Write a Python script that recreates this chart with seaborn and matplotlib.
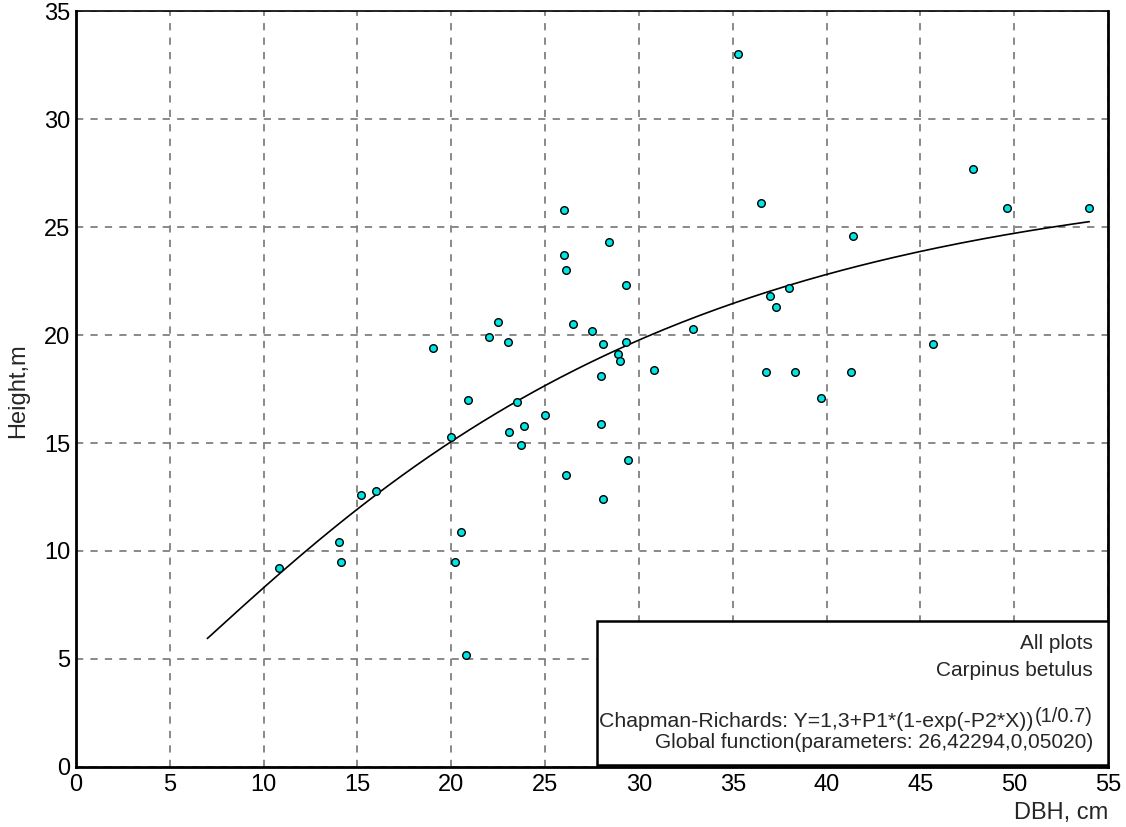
import numpy as np
import pandas as pd
import matplotlib.pyplot as plt
import seaborn as sns

# observed trees: diameter at breast height (cm) and height (m)
dbh = [10.8, 14.0, 14.1, 15.2, 16.0, 19.0, 20.0, 20.2, 20.5, 20.8, 20.9,
       22.0, 22.5, 23.0, 23.1, 23.5, 23.7, 23.9, 25.0, 26.0, 26.0, 26.1,
       26.1, 26.5, 27.5, 28.0, 28.0, 28.1, 28.1, 28.4, 28.9, 29.0, 29.3,
       29.3, 29.4, 30.8, 32.9, 35.3, 36.5, 36.8, 37.0, 37.3, 38.0, 38.3,
       39.7, 41.3, 41.4, 45.7, 47.8, 49.6, 54.0]
height = [9.2, 10.4, 9.5, 12.6, 12.8, 19.4, 15.3, 9.5, 10.9, 5.2, 17.0,
          19.9, 20.6, 19.7, 15.5, 16.9, 14.9, 15.8, 16.3, 25.8, 23.7, 23.0,
          13.5, 20.5, 20.2, 18.1, 15.9, 19.6, 12.4, 24.3, 19.1, 18.8, 22.3,
          19.7, 14.2, 18.4, 20.3, 33.0, 26.1, 18.3, 21.8, 21.3, 22.2, 18.3,
          17.1, 18.3, 24.6, 19.6, 27.7, 25.9, 25.9]

# Chapman-Richards parameters as printed on the chart
p1, p2 = 26.42294, 0.05020
x_fit = np.linspace(7, 54, 200)
y_fit = 1.3 + p1 * (1 - np.exp(-p2 * x_fit)) ** (1 / 0.7)

sns.set_theme(style="white")
plt.rcParams['font.family'] = ['Liberation Sans', 'DejaVu Sans']

fig = plt.figure(figsize=(11.26, 8.27), dpi=100)
ax = fig.add_axes([0.0675, 0.0726, 0.9165, 0.914])

df = pd.DataFrame({'DBH': dbh, 'Height': height})
fit = pd.DataFrame({'DBH': x_fit, 'Height': y_fit})

sns.lineplot(data=fit, x='DBH', y='Height', color='black', lw=1.2, ax=ax,
             zorder=3)
sns.scatterplot(data=df, x='DBH', y='Height', color='#00e5e5',
                edgecolor='black', linewidth=1.0, s=30, ax=ax, zorder=4)

ax.set_xlim(0, 55)
ax.set_ylim(0, 35)
ax.set_xticks(range(0, 56, 5))
ax.set_yticks(range(0, 36, 5))
ax.grid(True, color='#808080', linestyle=(0, (4, 4)), linewidth=1.3)
ax.tick_params(axis='both', direction='in', length=5, width=1.2,
               labelsize=17, colors='black', pad=4)
ax.tick_params(axis='x', pad=5)
for sp in ax.spines.values():
    sp.set_color('black')
    sp.set_linewidth(1.2)
ax.spines['left'].set_linewidth(2)
ax.spines['bottom'].set_linewidth(2)
ax.spines['right'].set_linewidth(2)

ax.set_xlabel('')
ax.set_ylabel('')
fig.text(0.016, 0.527, 'Height,m', rotation=90, fontsize=17,
         ha='center', va='center')
fig.text(0.984, 0.017, 'DBH, cm', fontsize=17, ha='right', va='center')

# info box
box = plt.Rectangle((0.505, 0.003), 0.495, 0.19, transform=ax.transAxes,
                    facecolor='white', edgecolor='black', lw=1.8, zorder=5)
ax.add_patch(box)
tx = 0.9855
ax.text(tx, 0.163, 'All plots', transform=ax.transAxes, ha='right',
        va='center', fontsize=15, zorder=6)
ax.text(tx, 0.128, 'Carpinus betulus', transform=ax.transAxes, ha='right',
        va='center', fontsize=15, zorder=6)
sup = ax.text(tx, 0.067, '(1/0.7)', transform=ax.transAxes, ha='right',
              va='center', fontsize=14.5, zorder=6)
ax.annotate('Chapman-Richards: Y=1,3+P1*(1-exp(-P2*X))', xy=(0, 0.5),
            xycoords=sup, xytext=(-1, -3.5), textcoords='offset points',
            ha='right', va='center', fontsize=15.3, zorder=6)
ax.text(tx, 0.032, 'Global function(parameters: 26,42294,0,05020)',
        transform=ax.transAxes, ha='right', va='center', fontsize=15,
        zorder=6)

fig.savefig('out.png', dpi=100)
